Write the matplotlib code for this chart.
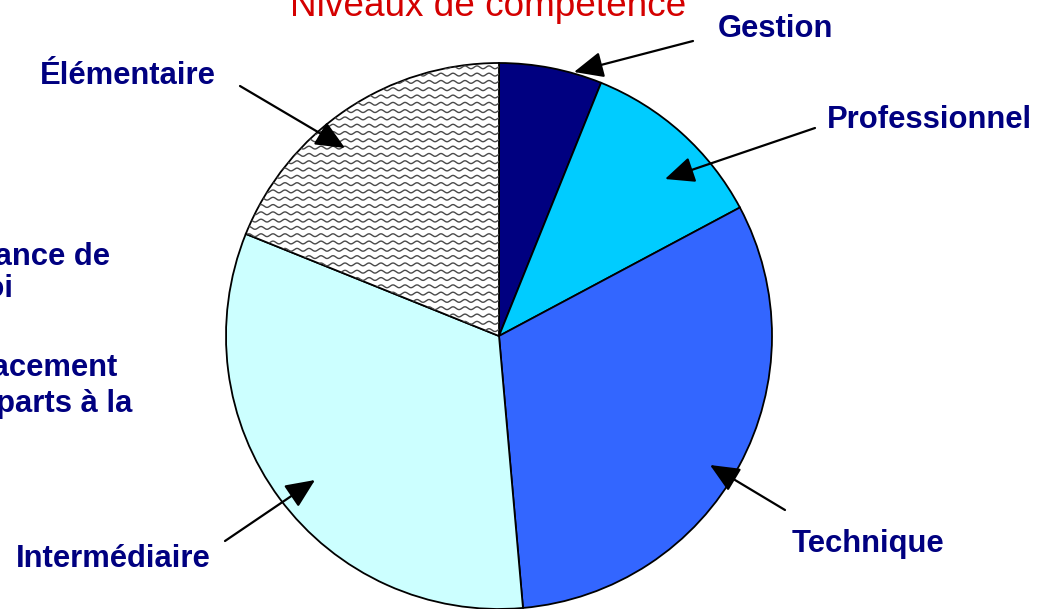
import numpy as np
import matplotlib
matplotlib.use("Agg")
import matplotlib.pyplot as plt

# data: share of each competence level (%), clockwise from 12 o'clock
levels = ["Gestion", "Professionnel", "Technique", "Intermédiaire", "Élémentaire"]
shares = [6.1, 11.1, 31.4, 32.5, 18.9]
colors = ["#000080", "#00CCFF", "#3366FF", "#CCFFFF", "#FFFFFF"]

# label text positions (left x, baseline y) and arrow tail/head, in pixels from top-left
label_pos = [(718, 37), (827, 128), (792, 552), (16, 567), (40, 84)]
arrow_tail = [(693, 41), (815, 128), (785, 510), (225, 541), (240, 86)]
arrow_head = [(574, 72), (665, 179), (710, 465), (315, 480), (345, 148)]

W, H = 1042, 609
navy = "#000080"
bold_px = 31
bold_pt = bold_px * 72 / 100


def fy(y):
    # pixel row -> data y
    return H - y


fig = plt.figure(figsize=(W / 100, H / 100), dpi=100)
ax = fig.add_axes([0, 0, 1, 1])

wedges, _ = ax.pie(shares, colors=colors, startangle=90, counterclock=False,
                   center=(499, fy(336)), radius=273,
                   wedgeprops=dict(edgecolor="black", linewidth=1.3))

ax.set_xlim(0, W)
ax.set_ylim(0, H)
ax.axis("off")

# wavy fill pattern for the last slice
xs = np.linspace(220, 505, 600)
for row in np.arange(60, 345, 7.3):
    line, = ax.plot(xs, fy(row + 1.4 * np.sin(2 * np.pi * xs / 12)),
                    color="#4a4a4a", linewidth=1.0, zorder=3)
    line.set_clip_path(wedges[4])

# title (cut by the top edge)
ax.text(488, fy(16), "Niveaux de compétence", ha="center", va="baseline",
        fontsize=26.6, color="#D40000", family="Liberation Sans")

# slice labels with arrows
for name, (lx, ly), tail, head in zip(levels, label_pos, arrow_tail, arrow_head):
    ax.text(lx, fy(ly), name, ha="left", va="baseline", fontsize=bold_pt,
            fontweight="bold", color=navy, family="Liberation Sans")
    ax.annotate("", xy=(head[0], fy(head[1])), xytext=(tail[0], fy(tail[1])),
                arrowprops=dict(arrowstyle="-|>,head_length=0.9,head_width=0.4",
                                color="black", lw=1.6, mutation_scale=20,
                                shrinkA=0, shrinkB=0), zorder=5)

# labels from other slices, running off the left edge
side_lines = [("Croissance de", -102, 265), ("l'emploi", -102, 297),
              ("Remplacement", -102, 376), ("des départs à la", -102, 412),
              ("retraite", -112, 448)]
for txt, x0, base in side_lines:
    ax.text(x0, fy(base), txt, ha="left", va="baseline", fontsize=bold_pt,
            fontweight="bold", color=navy, family="Liberation Sans")

fig.savefig("out.png", dpi=100)
